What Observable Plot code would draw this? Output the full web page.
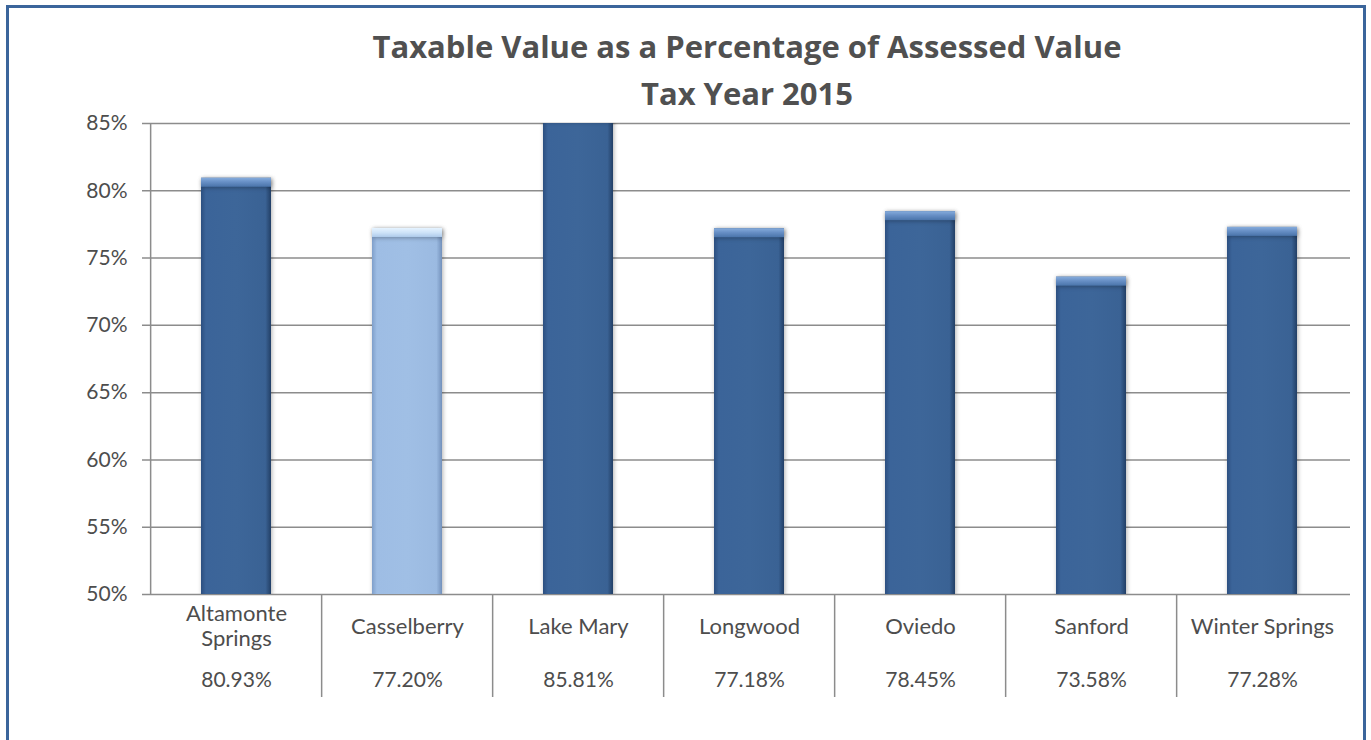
<!DOCTYPE html>
<html><head><meta charset="utf-8">
<script src="https://cdn.jsdelivr.net/npm/d3@7"></script>
<script src="https://cdn.jsdelivr.net/npm/@observablehq/plot@0.6"></script>
<style>
html,body{margin:0;padding:0;background:#fff;}
#wrap{position:relative;width:1371px;height:740px;overflow:hidden;font-family:Lato,sans-serif;}
#chart{position:absolute;left:0;top:0;}
#border{position:absolute;left:6px;top:5px;width:1354px;height:760px;border:3px solid #3b659b;pointer-events:none;}
#title{position:absolute;left:347px;width:800px;top:23px;text-align:center;font-family:"Open Sans",sans-serif;font-weight:700;font-size:31px;line-height:47px;color:#505050;}
</style></head><body>
<div id="wrap"><div id="chart"></div><div id="border"></div><div id="title"></div></div>
<script>
const titleLines = ["Taxable Value as a Percentage of Assessed Value", "Tax Year 2015"];
const categories = ["Altamonte Springs","Casselberry","Lake Mary","Longwood","Oviedo","Sanford","Winter Springs"];
const tickLabels = ["Altamonte\nSprings","Casselberry","Lake Mary","Longwood","Oviedo","Sanford","Winter Springs"];
const values = [80.93, 77.20, 85.81, 77.18, 78.45, 73.58, 77.28];
const valueLabels = ["80.93%","77.20%","85.81%","77.18%","78.45%","73.58%","77.28%"];
const highlighted = ["Casselberry"];
const yTicks = [50, 55, 60, 65, 70, 75, 80, 85];

document.getElementById("title").innerHTML = titleLines.join("<br>");

const data = categories.map((c, i) => ({cat: c, label: tickLabels[i], value: values[i], vlabel: valueLabels[i], hi: highlighted.includes(c)}));

const W = 1371, H = 740, ml = 148, mr = 21, mt = 123, mb = 146;
const step = (W - ml - mr) / categories.length;
const frameH = H - mt - mb;
const grid = "#8c8c8c";
const txt = "#4d4d4d";

const plot = Plot.plot({
  width: W, height: H,
  marginLeft: ml, marginRight: mr, marginTop: mt, marginBottom: mb,
  style: {background: "transparent", fontFamily: "Lato, sans-serif", color: txt},
  x: {domain: categories, paddingInner: 0.59, paddingOuter: 0.295, axis: null},
  y: {domain: [50, 85], axis: null},
  marks: [
    Plot.ruleY(yTicks, {stroke: grid, strokeWidth: 1.5, insetLeft: -6}),
    Plot.axisY({ticks: yTicks, tickFormat: d => d + "%", tickSize: 0, tickPadding: 21, fontSize: 21, label: null, fill: txt}),
    Plot.ruleX([categories[0]], {dx: -step / 2, stroke: grid, strokeWidth: 1.5}),
    Plot.ruleX(categories.slice(1), {dx: -step / 2, stroke: grid, strokeWidth: 1.5, insetTop: frameH, insetBottom: -103}),
    Plot.barY(data.filter(d => !d.hi), {x: "cat", y1: 50, y2: "value", fill: "url(#darkBody)", clip: true}),
    Plot.barY(data.filter(d => d.hi), {x: "cat", y1: 50, y2: "value", fill: "url(#lightBody)", clip: true}),
    Plot.barY(data.filter(d => !d.hi), {x: "cat", y1: "value", y2: "value", insetBottom: -9, fill: "url(#darkCap)", clip: true}),
    Plot.barY(data.filter(d => d.hi), {x: "cat", y1: "value", y2: "value", insetBottom: -9, fill: "url(#lightCap)", clip: true}),
    Plot.text(data, {x: "cat", text: "label", frameAnchor: "bottom", dy: 31, lineAnchor: "middle", fontSize: 22, lineHeight: 25 / 22, fill: txt}),
    Plot.text(data, {x: "cat", text: "vlabel", frameAnchor: "bottom", dy: 92, lineAnchor: "bottom", fontSize: 21, fill: txt})
  ]
});
document.getElementById("chart").appendChild(plot);

const svg = d3.select(plot);
const defs = svg.insert("defs", ":first-child");
function grad(id, horizontal, stops) {
  const g = defs.append("linearGradient").attr("id", id)
    .attr("x1", 0).attr("y1", 0).attr("x2", horizontal ? 1 : 0).attr("y2", horizontal ? 0 : 1);
  stops.forEach(([o, c]) => g.append("stop").attr("offset", o).attr("stop-color", c));
}
grad("darkBody", true, [[0, "#2c4f80"], [0.07, "#3b6499"], [0.5, "#3d6699"], [0.92, "#3a6294"], [1, "#223f66"]]);
grad("lightBody", true, [[0, "#7f9fca"], [0.07, "#9ebde4"], [0.5, "#a0bfe5"], [0.92, "#9bbae1"], [1, "#7391bb"]]);
grad("darkCap", false, [[0, "#86acdc"], [0.45, "#6890c6"], [1, "#4a74aa"]]);
grad("lightCap", false, [[0, "#e6f3ff"], [0.5, "#cfe4f8"], [1, "#afcbeb"]]);
svg.selectAll('g[aria-label="bar"]').style("filter", "drop-shadow(1px 1px 2px rgba(0,0,0,0.3))");
</script>
</body></html>
